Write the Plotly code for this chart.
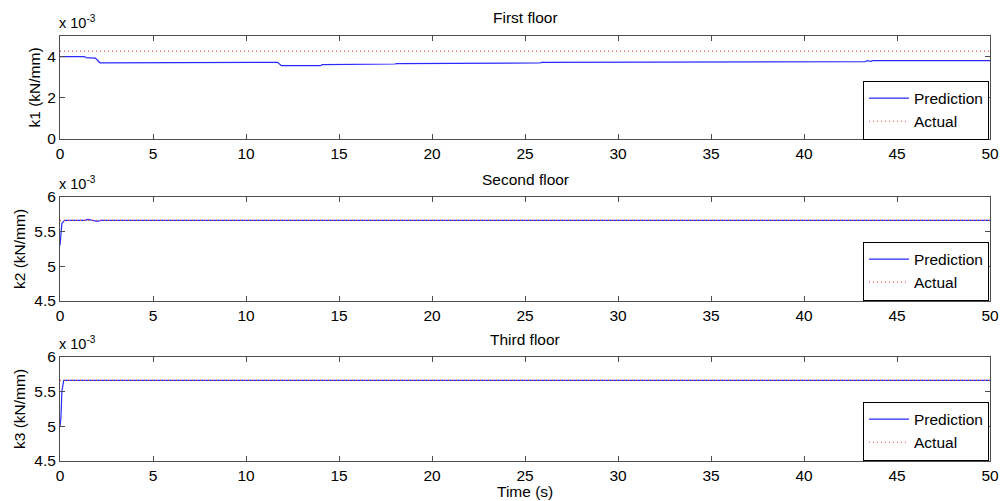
import plotly.graph_objects as go

# ---------------- data (values in units of 1e-3 kN/mm) ----------------
k1_time = [0, 1.3, 1.4, 1.9, 2.15, 3.6, 3.7, 8.6, 8.7, 11.7, 11.9, 14.0, 14.1, 16.8, 16.9,
           18.0, 18.1, 21.9, 22.0, 25.8, 25.9, 35.4, 35.5, 43.3, 43.4, 43.6, 43.7, 50]
k1_pred = [4.00, 4.00, 3.95, 3.93, 3.70, 3.70, 3.69, 3.69, 3.72, 3.72, 3.56, 3.56, 3.61, 3.61, 3.64,
           3.64, 3.66, 3.66, 3.69, 3.69, 3.72, 3.72, 3.75, 3.75, 3.80, 3.77, 3.80, 3.80]
k1_actual_time = [0, 50]
k1_actual = [4.27, 4.27]

k2_time = [0, 0.05, 0.1, 0.25, 1.35, 1.5, 1.7, 2.0, 2.2, 50]
k2_pred = [5.30, 5.50, 5.62, 5.662, 5.662, 5.677, 5.662, 5.648, 5.662, 5.662]
k2_actual_time = [0, 50]
k2_actual = [5.662, 5.662]

k3_time = [0, 0.05, 0.1, 0.15, 0.2, 50]
k3_pred = [5.00, 5.12, 5.50, 5.62, 5.662, 5.662]
k3_actual_time = [0, 50]
k3_actual = [5.662, 5.662]

titles = ["First floor", "Second floor", "Third floor"]
ylabels = ["k1 (kN/mm)", "k2 (kN/mm)", "k3 (kN/mm)"]
xlabel = "Time (s)"
yranges = [[0, 5], [4.5, 6], [4.5, 6]]
yticks = [[0, 2, 4], [4.5, 5, 5.5, 6], [4.5, 5, 5.5, 6]]
xticks = [0, 5, 10, 15, 20, 25, 30, 35, 40, 45, 50]

# ---------------- layout in (window) pixels ----------------
W, H = 1001, 501

def px(p):      # window x pixel -> paper fraction
    return p / W

def py(p):      # window y pixel (from top) -> paper fraction
    return (H - p) / H

x_left, x_right = 60, 990
panels_px = [(36, 139), (197, 301), (357, 461)]  # (top, bottom)
legend_mid = [110, 271, 431]
ylabel_x = [34, 19, 19]

FONT = "Liberation Sans, Arial, Helvetica, sans-serif"
FS = 15.5
AX_COLOR = "#4d4d4d"

fig = go.Figure()

series = [
    (k1_time, k1_pred, k1_actual_time, k1_actual),
    (k2_time, k2_pred, k2_actual_time, k2_actual),
    (k3_time, k3_pred, k3_actual_time, k3_actual),
]

annotations = []
for i, (tp, vp, ta, va) in enumerate(series):
    n = i + 1
    xa = "x" if n == 1 else f"x{n}"
    ya = "y" if n == 1 else f"y{n}"
    lg = "legend" if n == 1 else f"legend{n}"
    fig.add_trace(go.Scatter(x=tp, y=vp, mode="lines", name="Prediction",
                             line=dict(color="#2a2aff", width=1.2), xaxis=xa, yaxis=ya,
                             legend=lg))
    fig.add_trace(go.Scatter(x=ta, y=va, mode="lines", name="Actual",
                             line=dict(color="#ff4a4a", width=1.2, dash="1px,3px"), xaxis=xa, yaxis=ya,
                             legend=lg))

    top, bot = panels_px[i]
    xkey = "xaxis" if n == 1 else f"xaxis{n}"
    ykey = "yaxis" if n == 1 else f"yaxis{n}"
    fig.update_layout(**{
        xkey: dict(domain=[px(x_left), px(x_right)], range=[0, 50], tickvals=xticks,
                   anchor=ya, showgrid=False, zeroline=False, showline=True, linecolor=AX_COLOR,
                   linewidth=1, mirror="ticks", ticks="inside", ticklen=5, tickcolor=AX_COLOR,
                   automargin=False, ticklabeloverflow="allow",
                   tickfont=dict(family=FONT, size=FS, color="black")),
        ykey: dict(domain=[py(bot), py(top)], range=yranges[i], tickvals=yticks[i],
                   ticktext=[f"{v:g}" for v in yticks[i]],
                   anchor=xa, showgrid=False, zeroline=False, showline=True, linecolor=AX_COLOR,
                   linewidth=1, mirror="ticks", ticks="inside", ticklen=5, tickcolor=AX_COLOR,
                   automargin=False, ticklabeloverflow="allow",
                   tickfont=dict(family=FONT, size=FS, color="black")),
        lg: dict(x=px(989), xanchor="right", y=py(legend_mid[i]), yanchor="middle",
                 bgcolor="white", bordercolor="black", borderwidth=1,
                 font=dict(family=FONT, size=FS, color="black"), itemwidth=40,
                 tracegroupgap=0),
    })

    annotations.append(dict(text=titles[i], x=px((x_left + x_right) / 2), y=py(top - 18),
                            xref="paper", yref="paper", showarrow=False, yanchor="middle",
                            font=dict(family=FONT, size=FS, color="black")))
    annotations.append(dict(text="x 10<sup>-3</sup>", x=px(x_left - 3), y=py(top - 3),
                            xref="paper", yref="paper", showarrow=False, xanchor="left",
                            yanchor="bottom", font=dict(family=FONT, size=14.5, color="black")))
    annotations.append(dict(text=ylabels[i], x=px(ylabel_x[i]), y=py((top + bot) / 2),
                            xref="paper", yref="paper", showarrow=False, textangle=-90,
                            xanchor="center", yanchor="middle",
                            font=dict(family=FONT, size=FS, color="black")))

annotations.append(dict(text=xlabel, x=px((x_left + x_right) / 2), y=py(491),
                        xref="paper", yref="paper", showarrow=False, yanchor="middle",
                        font=dict(family=FONT, size=FS, color="black")))

fig.update_layout(width=W, height=H, margin=dict(l=0, r=0, t=0, b=0),
                  paper_bgcolor="white", plot_bgcolor="white", showlegend=True,
                  annotations=annotations)

fig.write_html("out.html", config={"displayModeBar": False},
               post_script="document.body.style.margin='0';document.body.style.overflow='hidden';")
